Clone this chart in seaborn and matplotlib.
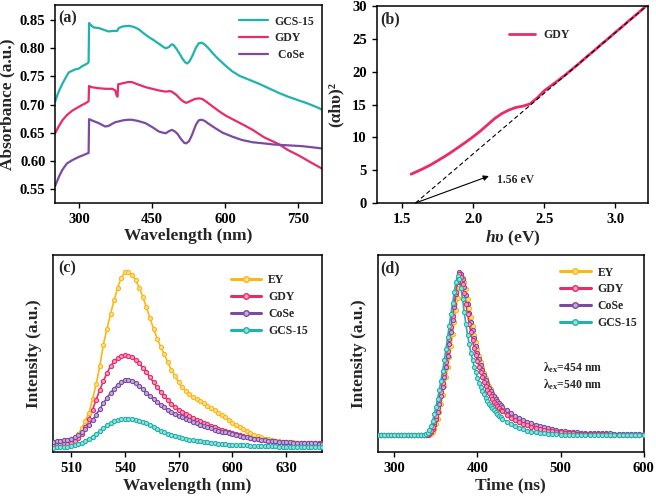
import numpy as np
import matplotlib
matplotlib.use("Agg")
import matplotlib.pyplot as plt
import seaborn as sns
from matplotlib.lines import Line2D
from matplotlib.colors import to_rgb

TEAL = "#1fb3ae"
PINK = "#e92a6c"
PURPLE = "#7b4ba3"
ORANGE = "#fdb714"

# ---- (a) UV-vis absorbance ----
wl_gcs = [250, 255, 260, 265, 270, 278, 285, 290, 299, 305, 310, 316, 319, 320, 325, 330,
          340, 350, 360, 370, 378, 381, 390, 402, 412, 422, 432, 443, 454, 464, 472, 478,
          484, 490, 494, 500, 506, 512, 518, 522, 527, 533, 540, 546, 552, 558, 566, 574,
          585, 600, 615, 630, 650, 670, 690, 710, 730, 750, 770, 790, 800]
abs_gcs = [0.705, 0.718, 0.728, 0.737, 0.745, 0.757, 0.760, 0.762, 0.764, 0.768, 0.770, 0.773,
           0.775, 0.845, 0.840, 0.837, 0.836, 0.833, 0.830, 0.831, 0.831, 0.836, 0.839, 0.840,
           0.838, 0.834, 0.827, 0.820, 0.814, 0.808, 0.803, 0.800, 0.802, 0.807, 0.806, 0.799,
           0.791, 0.782, 0.775, 0.773, 0.777, 0.787, 0.801, 0.809, 0.810, 0.807, 0.800, 0.792,
           0.782, 0.770, 0.759, 0.751, 0.744, 0.737, 0.729, 0.721, 0.714, 0.708, 0.702, 0.695,
           0.691]
wl_gdy = [250, 258, 265, 274, 285, 295, 305, 312, 316, 319, 320, 325, 340, 355, 368, 374,
          377, 378.5, 380, 390, 400, 408, 420, 436, 450, 464, 478, 487, 492, 500, 509, 515,
          520, 528, 538, 546, 553, 560, 574, 588, 602, 620, 640, 657, 680, 700, 712, 730,
          753, 775, 800]
abs_gdy = [0.649, 0.662, 0.672, 0.681, 0.689, 0.694, 0.699, 0.702, 0.704, 0.706, 0.733, 0.731,
           0.729, 0.728, 0.728, 0.725, 0.716, 0.714, 0.736, 0.738, 0.740, 0.740, 0.736, 0.731,
           0.728, 0.725, 0.723, 0.724, 0.722, 0.717, 0.709, 0.705, 0.703, 0.706, 0.710, 0.711,
           0.710, 0.706, 0.697, 0.688, 0.680, 0.672, 0.663, 0.655, 0.642, 0.634, 0.629, 0.619,
           0.609, 0.598, 0.586]
wl_cose = [250, 258, 265, 274, 285, 299, 308, 316, 319, 320, 328, 340, 353, 360, 368, 375,
           381, 390, 400, 408, 420, 436, 450, 464, 472, 478, 485, 491, 497, 502, 510, 516,
           520, 526, 532, 540, 546, 552, 558, 566, 580, 595, 615, 635, 657, 680, 700, 720,
           740, 760, 780, 800]
abs_cose = [0.555, 0.572, 0.584, 0.595, 0.601, 0.607, 0.610, 0.613, 0.614, 0.674, 0.671,
            0.667, 0.661, 0.662, 0.666, 0.669, 0.670, 0.672, 0.673, 0.673, 0.671, 0.667,
            0.660, 0.652, 0.650, 0.649, 0.653, 0.655, 0.652, 0.648, 0.638, 0.632, 0.631,
            0.635, 0.646, 0.664, 0.672, 0.673, 0.671, 0.666, 0.658, 0.650, 0.643, 0.637,
            0.633, 0.631, 0.629, 0.628, 0.627, 0.626, 0.624, 0.622]

# ---- (b) Tauc plot ----
hv = [1.563, 1.60, 1.65, 1.70, 1.75, 1.80, 1.85, 1.90, 1.95, 2.00, 2.05, 2.10, 2.15, 2.20,
      2.25, 2.30, 2.35, 2.40, 2.45, 2.50, 2.55, 2.60, 2.65, 2.70, 2.75, 2.80, 2.85, 2.90,
      2.95, 3.00, 3.05, 3.10, 3.15, 3.20, 3.23]
tauc = [4.39, 4.75, 5.25, 5.80, 6.45, 7.10, 7.80, 8.55, 9.30, 10.1, 10.95, 11.9, 12.85, 13.6,
        14.15, 14.55, 14.75, 15.1, 16.0, 17.1, 17.9, 18.7, 19.55, 20.45, 21.35, 22.3, 23.2,
        24.15, 25.05, 26.0, 26.9, 27.85, 28.75, 29.7, 30.25]
fit_hv = [1.594, 3.23]
fit_y = [0.0, 30.2]
gap_arrow_tail = (1.594, 0.0)
gap_arrow_head = (2.11, 4.1)
gap_label = "1.56 eV"

# ---- (c) steady-state PL (normalised intensity) ----
wl_pl = np.arange(500, 651, 2)
pl_ey = [0.045, 0.047, 0.049, 0.052, 0.056, 0.060, 0.066, 0.090, 0.122, 0.158,
         0.200, 0.268, 0.345, 0.435, 0.545, 0.625, 0.700, 0.770, 0.835, 0.885,
         0.912, 0.915, 0.900, 0.872, 0.835, 0.788, 0.735, 0.680, 0.625, 0.575,
         0.535, 0.495, 0.455, 0.415, 0.385, 0.355, 0.328, 0.310, 0.295, 0.280,
         0.268, 0.257, 0.247, 0.236, 0.224, 0.212, 0.200, 0.188, 0.176, 0.164,
         0.145, 0.135, 0.125, 0.115, 0.105, 0.095, 0.087, 0.080, 0.074, 0.068,
         0.064, 0.060, 0.057, 0.055, 0.053, 0.051, 0.050, 0.049, 0.048, 0.047,
         0.046, 0.045, 0.045, 0.044, 0.044, 0.043]
pl_gdy = [0.042, 0.042, 0.042, 0.042, 0.043, 0.046, 0.055, 0.070, 0.092, 0.125,
          0.165, 0.215, 0.265, 0.315, 0.360, 0.400, 0.435, 0.460, 0.477, 0.487,
          0.490, 0.488, 0.480, 0.467, 0.450, 0.428, 0.405, 0.380, 0.353, 0.328,
          0.305, 0.283, 0.263, 0.245, 0.230, 0.215, 0.203, 0.193, 0.183, 0.173,
          0.164, 0.155, 0.147, 0.140, 0.133, 0.126, 0.119, 0.113, 0.106, 0.100,
          0.095, 0.090, 0.085, 0.080, 0.076, 0.072, 0.068, 0.065, 0.062, 0.059,
          0.057, 0.055, 0.053, 0.051, 0.050, 0.049, 0.048, 0.047, 0.046, 0.046,
          0.045, 0.045, 0.044, 0.044, 0.044, 0.043]
pl_cose = [0.052, 0.054, 0.056, 0.059, 0.063, 0.068, 0.076, 0.086, 0.100, 0.117,
           0.138, 0.163, 0.190, 0.218, 0.247, 0.275, 0.300, 0.322, 0.340, 0.355,
           0.363, 0.365, 0.360, 0.350, 0.335, 0.318, 0.300, 0.284, 0.268, 0.253,
           0.239, 0.226, 0.214, 0.203, 0.193, 0.184, 0.176, 0.168, 0.160, 0.153,
           0.146, 0.139, 0.132, 0.126, 0.120, 0.114, 0.109, 0.104, 0.099, 0.094,
           0.090, 0.086, 0.082, 0.078, 0.074, 0.071, 0.068, 0.065, 0.062, 0.060,
           0.058, 0.056, 0.054, 0.052, 0.051, 0.050, 0.049, 0.048, 0.047, 0.046,
           0.045, 0.045, 0.044, 0.044, 0.043, 0.043]
pl_gcs = [0.022, 0.023, 0.024, 0.025, 0.027, 0.030, 0.034, 0.040, 0.048, 0.057,
          0.067, 0.078, 0.092, 0.106, 0.121, 0.135, 0.147, 0.157, 0.164, 0.168,
          0.170, 0.170, 0.168, 0.164, 0.159, 0.152, 0.145, 0.136, 0.127, 0.118,
          0.108, 0.100, 0.093, 0.086, 0.080, 0.075, 0.070, 0.066, 0.062, 0.059,
          0.056, 0.054, 0.051, 0.049, 0.047, 0.045, 0.043, 0.041, 0.040, 0.038,
          0.037, 0.036, 0.035, 0.034, 0.033, 0.032, 0.031, 0.030, 0.030, 0.029,
          0.029, 0.028, 0.028, 0.027, 0.027, 0.026, 0.026, 0.026, 0.025, 0.025,
          0.025, 0.025, 0.024, 0.024, 0.024, 0.024]

# ---- (d) TRPL decay (normalised intensity) ----
t_ns = np.concatenate([np.arange(280, 337, 4), np.arange(338, 431, 2), np.arange(435, 601, 5)])
tr_ey = ([0.085] * 15 +
         [0.085, 0.086, 0.088, 0.093, 0.102, 0.118, 0.140, 0.170, 0.205, 0.245,
          0.288, 0.333, 0.380, 0.430, 0.483, 0.540, 0.600, 0.660, 0.720, 0.780,
          0.835, 0.875, 0.885, 0.865, 0.825, 0.778, 0.730, 0.683, 0.638, 0.596,
          0.557, 0.521, 0.488, 0.457, 0.428, 0.402, 0.378, 0.356, 0.336, 0.318,
          0.301, 0.286, 0.272, 0.259, 0.247, 0.236, 0.226] +
         [0.207, 0.190, 0.176, 0.164, 0.153, 0.144, 0.136, 0.129, 0.123, 0.118,
          0.113, 0.109, 0.106, 0.103, 0.100, 0.098, 0.096, 0.094, 0.093, 0.092,
          0.091, 0.090, 0.089, 0.089, 0.088, 0.088, 0.088, 0.087, 0.087, 0.087,
          0.087, 0.087, 0.087, 0.087])
tr_gdy = ([0.085] * 15 +
          [0.086, 0.089, 0.095, 0.107, 0.125, 0.152, 0.185, 0.222, 0.262, 0.305,
           0.352, 0.402, 0.455, 0.512, 0.572, 0.632, 0.692, 0.750, 0.810, 0.868,
           0.905, 0.890, 0.855, 0.805, 0.752, 0.700, 0.652, 0.607, 0.566, 0.528,
           0.493, 0.461, 0.431, 0.404, 0.379, 0.356, 0.335, 0.316, 0.299, 0.283,
           0.269, 0.256, 0.244, 0.233, 0.223, 0.214, 0.206] +
          [0.188, 0.173, 0.161, 0.151, 0.142, 0.135, 0.128, 0.122, 0.117, 0.113,
           0.109, 0.106, 0.103, 0.100, 0.098, 0.096, 0.094, 0.093, 0.092, 0.091,
           0.090, 0.090, 0.089, 0.089, 0.089, 0.088, 0.088, 0.088, 0.088, 0.088,
           0.088, 0.088, 0.088, 0.088])
tr_cose = ([0.086] * 15 +
           [0.086, 0.088, 0.092, 0.100, 0.115, 0.138, 0.168, 0.203, 0.242, 0.285,
            0.330, 0.380, 0.432, 0.488, 0.548, 0.610, 0.672, 0.735, 0.800, 0.865,
            0.915, 0.905, 0.880, 0.840, 0.795, 0.750, 0.705, 0.660, 0.618, 0.578,
            0.540, 0.505, 0.472, 0.442, 0.414, 0.389, 0.366, 0.345, 0.326, 0.309,
            0.293, 0.283, 0.270, 0.258, 0.247, 0.237, 0.228] +
           [0.212, 0.197, 0.184, 0.173, 0.163, 0.154, 0.146, 0.139, 0.133, 0.127,
            0.122, 0.117, 0.113, 0.109, 0.106, 0.103, 0.101, 0.099, 0.098, 0.097,
            0.096, 0.095, 0.095, 0.094, 0.094, 0.094, 0.093, 0.093, 0.093, 0.093,
            0.093, 0.093, 0.093, 0.093])
tr_gcs = ([0.085] * 13 + [0.086, 0.087] +
          [0.090, 0.097, 0.110, 0.130, 0.158, 0.192, 0.230, 0.270, 0.315, 0.362,
           0.412, 0.465, 0.522, 0.582, 0.642, 0.700, 0.755, 0.810, 0.862, 0.895,
           0.878, 0.835, 0.775, 0.710, 0.650, 0.595, 0.548, 0.505, 0.468, 0.434,
           0.404, 0.377, 0.352, 0.330, 0.310, 0.292, 0.275, 0.260, 0.246, 0.233,
           0.222, 0.211, 0.201, 0.192, 0.184, 0.176, 0.169] +
          [0.154, 0.141, 0.131, 0.122, 0.115, 0.109, 0.104, 0.100, 0.097, 0.094,
           0.092, 0.090, 0.089, 0.088, 0.087, 0.087, 0.086, 0.086, 0.086, 0.085,
           0.085, 0.085, 0.085, 0.085, 0.085, 0.085, 0.085, 0.085, 0.085, 0.085,
           0.085, 0.085, 0.085, 0.085])

labels_abs = ["GCS-15", "GDY", " CoSe"]
labels_pl = ["EY", "GDY", "CoSe", "GCS-15"]
ex_notes = ["λ$_{\\rm ex}$=454 nm", "λ$_{\\rm ex}$=540 nm"]


def tint(c, f=0.55):
    r, g, b = to_rgb(c)
    return (r + (1 - r) * f, g + (1 - g) * f, b + (1 - b) * f)


def beads(ax, x, y, color):
    sns.lineplot(x=x, y=y, ax=ax, color=color, lw=1.2, legend=False, errorbar=None)
    sns.scatterplot(x=x, y=y, ax=ax, s=9, color=tint(color), edgecolor=color,
                    linewidth=0.8, legend=False, zorder=3)


def bead_handles(colors, labels):
    return [Line2D([0], [0], color=c, lw=2.2, marker="o", markersize=4.0,
                   markerfacecolor=tint(c), markeredgecolor=c, label=l)
            for c, l in zip(colors, labels)]


sns.set_style("ticks")
plt.rcParams.update({
    "font.family": ["Liberation Serif", "DejaVu Serif"],
    "font.weight": "bold",
    "axes.labelweight": "bold",
    "axes.labelsize": 12.5,
    "axes.linewidth": 1.1,
    "axes.edgecolor": "black",
    "xtick.labelsize": 10.5,
    "ytick.labelsize": 10.5,
    "xtick.major.size": 3.5,
    "ytick.major.size": 3.5,
    "xtick.major.width": 1.0,
    "ytick.major.width": 1.0,
    "xtick.color": "black",
    "ytick.color": "black",
    "mathtext.fontset": "custom",
    "mathtext.rm": "Liberation Serif:bold",
    "mathtext.it": "Liberation Serif:italic:bold",
    "mathtext.bf": "Liberation Serif:bold",
    "legend.fontsize": 8.5,
})

fig = plt.figure(figsize=(6.56, 5.0), dpi=100)
ax_a = fig.add_axes([0.084, 0.594, 0.407, 0.396])
ax_b = fig.add_axes([0.574, 0.594, 0.414, 0.394])
ax_c = fig.add_axes([0.081, 0.096, 0.410, 0.394])
ax_d = fig.add_axes([0.576, 0.096, 0.405, 0.394])

# (a)
for x, y, c, l in zip([wl_gcs, wl_gdy, wl_cose], [abs_gcs, abs_gdy, abs_cose],
                      [TEAL, PINK, PURPLE], labels_abs):
    sns.lineplot(x=x, y=y, ax=ax_a, color=c, lw=1.6, label=l, errorbar=None)
ax_a.set_xlim(250, 800)
ax_a.set_ylim(0.525, 0.877)
ax_a.set_xticks([300, 450, 600, 750])
ax_a.set_yticks([0.55, 0.60, 0.65, 0.70, 0.75, 0.80, 0.85])
ax_a.set_yticklabels([f"{v:.2f}" for v in ax_a.get_yticks()])
ax_a.set_xlabel("Wavelength (nm)", labelpad=2)
ax_a.set_ylabel("Absorbance (a.u.)", labelpad=3)
ax_a.legend(loc="upper left", bbox_to_anchor=(0.65, 1.0), frameon=False,
            handlelength=2.4, handletextpad=0.6, labelspacing=0.4)
ax_a.text(0.012, 0.975, "(a)", transform=ax_a.transAxes, va="top", fontsize=11.5)

# (b)
sns.lineplot(x=hv, y=tauc, ax=ax_b, color=PINK, lw=2.0, label="GDY", errorbar=None)
sns.lineplot(x=fit_hv, y=fit_y, ax=ax_b, color="black", lw=0.8, ls=(0, (4, 2.5)),
             legend=False, errorbar=None)
ax_b.annotate("", xy=gap_arrow_head, xytext=gap_arrow_tail, annotation_clip=False,
              arrowprops=dict(arrowstyle="-|>", color="black", lw=0.8, mutation_scale=8,
                              shrinkA=0, shrinkB=0))
ax_b.text(gap_arrow_head[0] + 0.06, gap_arrow_head[1] - 0.6, gap_label, fontsize=8.5,
          va="center", ha="left")
ax_b.set_xlim(1.32, 3.23)
ax_b.set_ylim(0, 30)
ax_b.set_xticks([1.5, 2.0, 2.5, 3.0])
ax_b.set_yticks([0, 5, 10, 15, 20, 25, 30])
ax_b.set_xlabel(r"$h\upsilon$ (eV)", labelpad=2)
ax_b.set_ylabel("(αhυ)²", labelpad=6)
ax_b.legend(loc="upper left", bbox_to_anchor=(0.45, 0.935), frameon=False,
            handlelength=2.2, handletextpad=0.7)
ax_b.text(0.012, 0.975, "(b)", transform=ax_b.transAxes, va="top", fontsize=11.5)

# (c)
for y, c in zip([pl_ey, pl_gdy, pl_cose, pl_gcs], [ORANGE, PINK, PURPLE, TEAL]):
    beads(ax_c, wl_pl, y, c)
ax_c.set_xlim(500, 650)
ax_c.set_ylim(0, 1)
ax_c.set_xticks([510, 540, 570, 600, 630])
ax_c.set_yticks([])
ax_c.set_xlabel("Wavelength (nm)", labelpad=2)
ax_c.set_ylabel("Intensity (a.u.)", labelpad=8)
ax_c.legend(handles=bead_handles([ORANGE, PINK, PURPLE, TEAL], labels_pl),
            loc="upper left", bbox_to_anchor=(0.62, 0.955), frameon=False,
            handlelength=2.6, handletextpad=0.6, labelspacing=0.4)
ax_c.text(0.02, 0.975, "(c)", transform=ax_c.transAxes, va="top", fontsize=11.5)

# (d)
for y, c in zip([tr_ey, tr_cose, tr_gdy, tr_gcs], [ORANGE, PURPLE, PINK, TEAL]):
    beads(ax_d, t_ns, y, c)
ax_d.set_xlim(280, 600)
ax_d.set_ylim(0, 1)
ax_d.set_xticks([300, 400, 500, 600])
ax_d.set_yticks([])
ax_d.set_xlabel("Time (ns)", labelpad=2)
ax_d.set_ylabel("Intensity (a.u.)", labelpad=8)
ax_d.legend(handles=bead_handles([ORANGE, PINK, PURPLE, TEAL], labels_pl),
            loc="upper left", bbox_to_anchor=(0.645, 0.995), frameon=False,
            handlelength=2.6, handletextpad=0.6, labelspacing=0.4)
ax_d.text(479, 0.426, ex_notes[0], fontsize=8.5, va="center")
ax_d.text(479, 0.341, ex_notes[1], fontsize=8.5, va="center")
ax_d.text(0.01, 0.975, "(d)", transform=ax_d.transAxes, va="top", fontsize=11.5)

fig.savefig("out.png", dpi=100, facecolor="white")
